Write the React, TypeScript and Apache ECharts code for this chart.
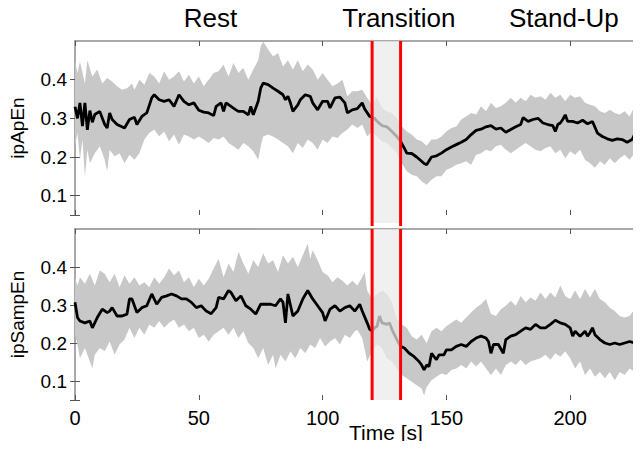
import React, { useEffect, useRef } from "react";
import * as echarts from "echarts";

// ---------- data (time [s], value) ----------
const xTicks = [0, 50, 100, 150, 200];
const yLabelValues = [0.1, 0.2, 0.3, 0.4];
const yTickValues = [0.05, 0.1, 0.2, 0.3, 0.4];
const phaseLabels = ["Rest", "Transition", "Stand-Up"];
const phaseCenters = [55, 131, 197.5];
const transition = [120, 131.5];

const apEnMean: number[][] = [[0,0.33],[1,0.30],[2,0.34],[3,0.28],[4,0.34],[5,0.27],[6,0.32],[7,0.29],[8,0.31],[10,0.318],[12,0.284],[13,0.275],[14,0.314],[15,0.297],[17,0.284],[20,0.275],[22,0.297],[24,0.303],[25,0.284],[27,0.305],[29,0.314],[31,0.353],[32,0.361],[34,0.348],[36,0.344],[38,0.348],[40,0.331],[42,0.361],[44,0.344],[46,0.335],[48,0.34],[50,0.321],[52,0.316],[54,0.314],[56,0.307],[57,0.331],[59,0.34],[60,0.318],[61,0.34],[63,0.331],[65,0.322],[66,0.318],[68,0.318],[70,0.309],[71,0.331],[72,0.309],[74,0.344],[75,0.378],[76,0.391],[78,0.387],[80,0.378],[82,0.37],[84,0.361],[85,0.348],[86,0.357],[87,0.34],[88,0.318],[90,0.335],[91,0.348],[93,0.361],[95,0.357],[96,0.34],[98,0.322],[100,0.344],[102,0.344],[103,0.327],[105,0.353],[107,0.355],[109,0.34],[110,0.314],[112,0.322],[114,0.325],[116,0.34],[117,0.324],[119,0.305],[120,0.303],[121,0.30],[122,0.292],[124,0.281],[126,0.278],[128,0.266],[130,0.253],[131.5,0.24],[133,0.223],[134,0.21],[136,0.209],[138,0.20],[140,0.189],[141,0.183],[142,0.18],[144,0.20],[146,0.203],[148,0.21],[150,0.219],[152,0.226],[154,0.232],[156,0.238],[158,0.245],[160,0.258],[162,0.269],[164,0.272],[166,0.278],[168,0.281],[170,0.272],[172,0.275],[174,0.264],[176,0.271],[178,0.278],[180,0.284],[181,0.302],[183,0.292],[185,0.297],[187,0.30],[189,0.288],[191,0.284],[193,0.281],[194,0.266],[195,0.284],[196,0.288],[197,0.297],[198,0.309],[199,0.292],[201,0.292],[203,0.288],[205,0.295],[207,0.286],[209,0.292],[211,0.262],[213,0.253],[215,0.247],[217,0.243],[219,0.247],[221,0.245],[223,0.238],[225,0.245],[226,0.258],[228,0.252]];
const apEnUpper: number[][] = [[0,0.45],[1,0.417],[2,0.447],[4,0.39],[5,0.45],[7,0.408],[9,0.426],[11,0.39],[13,0.404],[15,0.395],[17,0.383],[19,0.374],[21,0.378],[23,0.39],[24,0.374],[26,0.40],[28,0.387],[30,0.417],[32,0.408],[34,0.39],[36,0.422],[38,0.40],[40,0.408],[42,0.422],[44,0.395],[46,0.413],[48,0.39],[50,0.408],[52,0.383],[54,0.40],[56,0.417],[58,0.422],[60,0.439],[62,0.408],[64,0.443],[66,0.417],[68,0.43],[70,0.40],[72,0.426],[74,0.45],[75,0.486],[76,0.499],[78,0.478],[80,0.46],[82,0.469],[84,0.434],[86,0.45],[88,0.426],[90,0.45],[92,0.422],[94,0.439],[96,0.426],[98,0.40],[100,0.417],[102,0.40],[104,0.383],[106,0.39],[108,0.40],[110,0.357],[112,0.37],[114,0.37],[116,0.374],[118,0.353],[120,0.335],[122,0.353],[124,0.327],[126,0.318],[128,0.314],[130,0.30],[132,0.279],[134,0.266],[136,0.258],[138,0.245],[140,0.241],[142,0.229],[144,0.245],[146,0.245],[148,0.253],[150,0.266],[152,0.275],[154,0.279],[156,0.297],[158,0.305],[160,0.314],[162,0.31],[164,0.331],[166,0.318],[168,0.34],[170,0.327],[172,0.331],[174,0.34],[176,0.353],[178,0.34],[180,0.353],[182,0.344],[184,0.361],[186,0.353],[188,0.357],[190,0.348],[192,0.366],[194,0.353],[196,0.361],[198,0.344],[200,0.361],[202,0.353],[204,0.357],[206,0.34],[208,0.335],[210,0.331],[212,0.318],[214,0.314],[216,0.322],[218,0.314],[220,0.31],[222,0.318],[224,0.305],[226,0.331],[228,0.335]];
const apEnLower: number[][] = [[0,0.228],[1,0.262],[2,0.193],[3,0.245],[4,0.15],[5,0.219],[6,0.184],[8,0.21],[10,0.228],[12,0.193],[13,0.163],[14,0.219],[16,0.202],[18,0.21],[20,0.184],[22,0.206],[24,0.193],[26,0.21],[28,0.245],[30,0.262],[32,0.271],[34,0.253],[36,0.266],[38,0.241],[40,0.258],[42,0.232],[44,0.258],[46,0.253],[48,0.245],[50,0.253],[52,0.245],[54,0.236],[56,0.249],[58,0.245],[60,0.253],[62,0.236],[64,0.228],[66,0.219],[68,0.236],[70,0.228],[72,0.215],[74,0.193],[75,0.228],[76,0.253],[78,0.258],[80,0.253],[82,0.245],[84,0.236],[86,0.228],[88,0.21],[90,0.236],[92,0.223],[94,0.245],[96,0.236],[98,0.219],[100,0.245],[102,0.236],[104,0.253],[106,0.249],[108,0.262],[110,0.271],[112,0.284],[114,0.275],[116,0.284],[118,0.253],[120,0.266],[122,0.253],[124,0.24],[126,0.236],[128,0.223],[130,0.21],[132,0.184],[134,0.163],[136,0.154],[138,0.15],[140,0.137],[142,0.128],[144,0.141],[146,0.15],[148,0.15],[150,0.167],[152,0.172],[154,0.18],[156,0.184],[158,0.189],[160,0.18],[162,0.206],[164,0.21],[166,0.219],[168,0.215],[170,0.228],[172,0.232],[174,0.219],[176,0.21],[178,0.219],[180,0.228],[182,0.236],[184,0.228],[186,0.219],[188,0.215],[190,0.223],[192,0.228],[194,0.21],[196,0.219],[198,0.197],[200,0.215],[202,0.206],[204,0.219],[206,0.193],[208,0.184],[210,0.172],[212,0.189],[214,0.18],[216,0.197],[218,0.184],[220,0.197],[222,0.206],[224,0.193],[226,0.21],[228,0.202]];

const sampEnMean: number[][] = [[0,0.307],[1,0.267],[2,0.258],[4,0.253],[6,0.258],[7,0.24],[9,0.267],[11,0.289],[13,0.28],[14,0.284],[15,0.293],[17,0.271],[19,0.271],[21,0.276],[22,0.316],[23,0.316],[25,0.28],[27,0.293],[29,0.298],[31,0.329],[33,0.302],[35,0.32],[37,0.324],[39,0.329],[41,0.324],[43,0.316],[45,0.316],[47,0.307],[49,0.293],[51,0.298],[53,0.284],[55,0.277],[57,0.293],[58,0.32],[60,0.316],[62,0.338],[63,0.333],[65,0.311],[67,0.324],[69,0.298],[71,0.289],[73,0.276],[75,0.302],[77,0.302],[79,0.302],[81,0.298],[83,0.316],[84,0.307],[85,0.253],[86,0.329],[88,0.271],[90,0.284],[92,0.316],[94,0.338],[96,0.316],[98,0.298],[100,0.28],[101,0.258],[103,0.289],[105,0.298],[107,0.284],[109,0.293],[111,0.298],[113,0.284],[115,0.302],[116,0.284],[118,0.253],[119,0.236],[120,0.232],[121,0.24],[122,0.244],[123,0.271],[124,0.253],[126,0.249],[127,0.253],[128,0.236],[130,0.209],[131.5,0.191],[133,0.187],[135,0.173],[137,0.164],[139,0.151],[140,0.142],[141,0.129],[142,0.142],[143,0.138],[144,0.173],[145,0.164],[146,0.156],[147,0.169],[149,0.169],[150,0.182],[152,0.182],[154,0.191],[156,0.196],[158,0.191],[160,0.204],[162,0.213],[164,0.218],[166,0.213],[167,0.204],[168,0.173],[169,0.196],[171,0.196],[173,0.173],[174,0.209],[176,0.218],[178,0.222],[180,0.231],[182,0.24],[184,0.236],[186,0.249],[188,0.24],[190,0.24],[192,0.249],[194,0.26],[196,0.253],[198,0.249],[200,0.24],[201,0.218],[202,0.231],[204,0.218],[206,0.231],[207,0.218],[208,0.227],[209,0.24],[210,0.222],[212,0.209],[214,0.2],[216,0.196],[218,0.2],[220,0.196],[222,0.2],[224,0.204],[226,0.2],[228,0.191]];
const sampEnUpper: number[][] = [[0,0.373],[1,0.351],[2,0.373],[4,0.356],[6,0.382],[8,0.351],[10,0.391],[12,0.382],[14,0.36],[16,0.382],[18,0.347],[20,0.378],[22,0.356],[24,0.373],[26,0.351],[28,0.36],[30,0.347],[32,0.373],[34,0.356],[36,0.373],[38,0.396],[40,0.378],[42,0.391],[44,0.36],[46,0.373],[48,0.347],[50,0.369],[52,0.351],[54,0.369],[56,0.396],[58,0.422],[60,0.373],[62,0.409],[64,0.387],[66,0.44],[68,0.409],[70,0.382],[72,0.418],[74,0.40],[76,0.436],[78,0.409],[80,0.418],[82,0.387],[84,0.431],[86,0.409],[88,0.427],[90,0.40],[92,0.431],[94,0.462],[95,0.422],[96,0.444],[98,0.418],[100,0.387],[102,0.378],[104,0.36],[106,0.373],[108,0.364],[110,0.351],[112,0.364],[114,0.351],[116,0.373],[117,0.387],[118,0.338],[120,0.316],[122,0.329],[124,0.338],[126,0.329],[128,0.307],[130,0.262],[132,0.249],[134,0.24],[136,0.218],[138,0.209],[140,0.222],[142,0.2],[144,0.231],[146,0.24],[148,0.231],[150,0.244],[152,0.253],[154,0.262],[156,0.253],[158,0.267],[160,0.28],[162,0.293],[164,0.302],[166,0.316],[168,0.276],[170,0.271],[172,0.289],[174,0.298],[176,0.311],[178,0.298],[180,0.324],[182,0.307],[184,0.32],[186,0.311],[188,0.333],[190,0.316],[192,0.333],[194,0.32],[196,0.351],[198,0.324],[200,0.316],[202,0.338],[204,0.316],[206,0.342],[208,0.32],[210,0.342],[212,0.316],[214,0.307],[216,0.293],[218,0.284],[220,0.271],[222,0.267],[224,0.271],[226,0.289],[228,0.298]];
const sampEnLower: number[][] = [[0,0.222],[1,0.196],[2,0.16],[4,0.187],[6,0.151],[7,0.133],[8,0.169],[10,0.187],[12,0.178],[14,0.204],[16,0.169],[18,0.196],[20,0.209],[22,0.24],[24,0.213],[26,0.24],[28,0.222],[30,0.249],[32,0.24],[34,0.258],[36,0.24],[38,0.253],[40,0.262],[42,0.24],[44,0.249],[46,0.231],[48,0.24],[50,0.213],[52,0.222],[54,0.204],[56,0.222],[58,0.231],[60,0.24],[62,0.222],[64,0.24],[66,0.213],[68,0.231],[70,0.2],[72,0.187],[74,0.16],[76,0.187],[78,0.142],[80,0.169],[81,0.133],[83,0.169],[85,0.151],[87,0.178],[89,0.16],[91,0.187],[93,0.173],[95,0.196],[97,0.187],[99,0.213],[101,0.191],[103,0.204],[105,0.213],[107,0.196],[109,0.222],[111,0.213],[113,0.231],[114,0.235],[116,0.213],[118,0.151],[120,0.178],[122,0.196],[124,0.187],[126,0.16],[128,0.151],[130,0.133],[132,0.116],[134,0.107],[136,0.098],[138,0.089],[140,0.08],[141,0.062],[142,0.084],[144,0.102],[146,0.111],[148,0.12],[150,0.116],[152,0.129],[154,0.133],[156,0.142],[158,0.133],[160,0.151],[162,0.138],[164,0.151],[166,0.133],[168,0.116],[170,0.133],[172,0.116],[174,0.142],[176,0.151],[178,0.142],[180,0.156],[182,0.142],[184,0.151],[186,0.156],[188,0.16],[190,0.169],[192,0.156],[194,0.173],[196,0.164],[198,0.178],[200,0.16],[202,0.133],[204,0.151],[206,0.116],[208,0.133],[210,0.111],[212,0.124],[214,0.107],[216,0.124],[218,0.102],[220,0.124],[222,0.116],[224,0.133],[226,0.124],[228,0.142]];

const FONT = "Liberation Sans, Arial, Helvetica, sans-serif";
const AXIS_GRAY = "#8c8c8c";
const X_MAX = 228.6;
const GRID_LEFT = 74;

function bandSeries(idx: number, upper: number[][], lower: number[][]) {
  return {
    type: "custom",
    xAxisIndex: idx * 2,
    yAxisIndex: idx * 2,
    z: 1,
    silent: true,
    data: [[upper[0][0], upper[0][1]]],
    renderItem: (_p: any, api: any) => {
      const pts = upper
        .map((d) => api.coord(d))
        .concat(lower.slice().reverse().map((d) => api.coord(d)));
      return { type: "polygon", shape: { points: pts }, style: { fill: "#c8c8c8" } };
    },
  };
}

function meanSeries(idx: number, data: number[][]) {
  return {
    type: "line",
    xAxisIndex: idx * 2,
    yAxisIndex: idx * 2,
    z: 2,
    data,
    showSymbol: false,
    symbol: "none",
    lineStyle: { color: "#000", width: 2.8 },
    silent: true,
  };
}

function transitionSeries(idx: number, extraRect: number, extraLine: number) {
  return {
    type: "custom",
    xAxisIndex: idx * 2,
    yAxisIndex: idx * 2,
    z: 5,
    silent: true,
    clip: false,
    data: [[transition[0], transition[1]]],
    renderItem: (params: any, api: any) => {
      const cs = params.coordSys;
      const x0 = api.coord([api.value(0), 0.3])[0];
      const x1 = api.coord([api.value(1), 0.3])[0];
      const top = cs.y;
      const bottom = cs.y + cs.height;
      return {
        type: "group",
        children: [
          {
            type: "rect",
            shape: { x: x0, y: top, width: x1 - x0, height: bottom - top + extraRect },
            style: { fill: "rgba(234,234,234,0.72)" },
          },
          {
            type: "line",
            shape: { x1: x0, y1: top, x2: x0, y2: bottom + extraLine },
            style: { stroke: "#ff0000", lineWidth: 3 },
          },
          {
            type: "line",
            shape: { x1: x1, y1: top, x2: x1, y2: bottom + extraLine },
            style: { stroke: "#ff0000", lineWidth: 3 },
          },
        ],
      };
    },
  };
}

function xAxes(gridIndex: number, showLabels: boolean) {
  const common = {
    type: "value",
    gridIndex,
    min: 0,
    max: X_MAX,
    splitLine: { show: false },
    axisTick: { show: true, inside: true, length: 5, customValues: xTicks, lineStyle: { color: "#555" } },
  };
  return [
    {
      ...common,
      position: "bottom",
      axisLine: { show: false },
      axisLabel: showLabels
        ? { show: true, customValues: xTicks, color: "#000", fontSize: 20, fontFamily: FONT, margin: 8 }
        : { show: false },
    },
    {
      ...common,
      position: "top",
      axisLine: { show: true, lineStyle: { color: AXIS_GRAY, width: 1.5 } },
      axisLabel: { show: false },
    },
  ];
}

function yAxes(gridIndex: number, name: string) {
  const common = {
    type: "value",
    gridIndex,
    min: 0.05,
    max: 0.5,
    splitLine: { show: false },
    axisTick: { show: true, inside: true, length: 5, customValues: yTickValues, lineStyle: { color: "#555" } },
  };
  return [
    {
      ...common,
      position: "left",
      name,
      nameLocation: "middle",
      nameGap: 48,
      nameTextStyle: { color: "#000", fontSize: 19, fontFamily: FONT },
      axisLine: { show: true, lineStyle: { color: AXIS_GRAY, width: 1.5 } },
      axisLabel: {
        show: true,
        customValues: yLabelValues,
        color: "#000",
        fontSize: 19,
        fontFamily: FONT,
        margin: 8,
        formatter: (v: number) => v.toFixed(1),
      },
    },
    {
      ...common,
      position: "right",
      axisLine: { show: false },
      axisLabel: { show: false },
    },
  ];
}

export default function App() {
  const ref = useRef<HTMLDivElement>(null);
  useEffect(() => {
    if (!ref.current) return;
    const chart = echarts.init(ref.current, undefined, { renderer: "svg" });
    const scale = (641 - GRID_LEFT) / X_MAX;
    const labelX = phaseCenters.map((t) => GRID_LEFT + t * scale);
    chart.setOption({
      animation: false,
      backgroundColor: "#fff",
      grid: [
        { left: GRID_LEFT, right: 0, top: 41, height: 174 },
        { left: GRID_LEFT, right: 0, top: 229, height: 171 },
      ],
      xAxis: [...xAxes(0, false), ...xAxes(1, true)],
      yAxis: [...yAxes(0, "ipApEn"), ...yAxes(1, "ipSampEn")],
      series: [
        bandSeries(0, apEnUpper, apEnLower),
        meanSeries(0, apEnMean),
        transitionSeries(0, 8, 11),
        bandSeries(1, sampEnUpper, sampEnLower),
        meanSeries(1, sampEnMean),
        transitionSeries(1, 0, 0),
      ],
      graphic: [
        ...phaseLabels.map((txt, i) => ({
          type: "text",
          x: labelX[i],
          y: 18,
          style: {
            text: txt,
            fill: "#000",
            font: `26px ${FONT}`,
            textAlign: "center",
            textVerticalAlign: "middle",
          },
        })),
        {
          type: "text",
          x: 386,
          y: 432,
          style: {
            text: "Time [s]",
            fill: "#000",
            font: `21px ${FONT}`,
            textAlign: "center",
            textVerticalAlign: "middle",
          },
        },
      ],
    });
    return () => chart.dispose();
  }, []);
  return <div ref={ref} style={{ width: 641, height: 449, margin: -8 }} />;
}
